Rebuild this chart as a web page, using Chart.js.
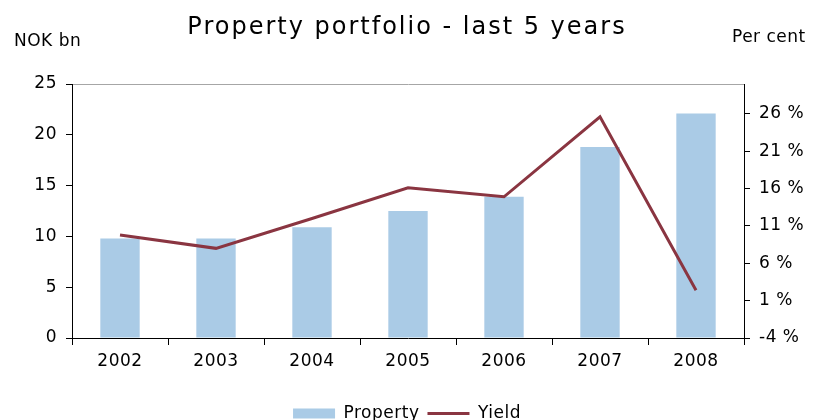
<!DOCTYPE html>
<html>
<head>
<meta charset="utf-8">
<title>Property portfolio</title>
<script src="https://cdn.jsdelivr.net/npm/chart.js@4"></script>
<style>
    html, body { margin: 0; padding: 0; background: #fff; }
    #wrap { width: 814px; height: 420px; }
</style>
</head>
<body>
<div id="wrap"><canvas id="portfolioChart"></canvas></div>
<script>
// --- Données ---
const years = ['2002', '2003', '2004', '2005', '2006', '2007', '2008'];
const propertyValues = [9.8, 9.8, 10.9, 12.5, 13.9, 18.8, 22.1];
const yieldValues = [9.8, 8.0, 12.0, 16.1, 14.9, 25.6, 2.4];
const leftTicks = [0, 5, 10, 15, 20, 25];
const rightTicks = [-4, 1, 6, 11, 16, 21, 26];
const chartTitle = 'Property portfolio - last 5 years';
const leftUnit = 'NOK bn';
const rightUnit = 'Per cent';

Chart.defaults.font.family = '"DejaVu Sans", Verdana, sans-serif';
Chart.defaults.color = '#000';

// espacement des lettres, comme sur l'original
const spacing = {
    id: 'spacing',
    beforeUpdate(chart) { chart.ctx.letterSpacing = '0.5px'; },
    beforeDraw(chart) { chart.ctx.letterSpacing = '0.5px'; }
};

// titre + unités des axes
const headings = {
    id: 'headings',
    afterDraw(chart) {
        const ctx = chart.ctx;
        ctx.save();
        ctx.fillStyle = '#000';
        ctx.textBaseline = 'alphabetic';
        ctx.font = '24px "DejaVu Sans", Verdana, sans-serif';
        ctx.letterSpacing = '2px';
        ctx.textAlign = 'center';
        ctx.fillText(chartTitle, 407, 34);
        ctx.font = '17px "DejaVu Sans", Verdana, sans-serif';
        ctx.letterSpacing = '0.5px';
        ctx.textAlign = 'left';
        ctx.fillText(leftUnit, 14, 46);
        ctx.fillText(rightUnit, 732, 42);
        ctx.restore();
    }
};

const ctx = document.getElementById('portfolioChart');

new Chart(ctx, {
    data: {
        labels: years,
        datasets: [{
            type: 'bar',
            label: 'Property',
            data: propertyValues,
            backgroundColor: '#AACBE6',
            borderWidth: 0,
            yAxisID: 'y',
            categoryPercentage: 1,
            barPercentage: 0.41,
            order: 1
        }, {
            type: 'line',
            label: 'Yield',
            data: yieldValues,
            borderColor: '#8A3541',
            backgroundColor: '#8A3541',
            borderWidth: 3,
            pointRadius: 0,
            tension: 0,
            yAxisID: 'y1',
            order: 0
        }]
    },
    options: {
        responsive: true,
        maintainAspectRatio: false,
        animation: false,
        layout: { padding: { top: 84, left: 0, right: 0, bottom: -12 } },
        plugins: {
            title: { display: false },
            tooltip: { enabled: false },
            legend: {
                position: 'bottom',
                padding: 0,
                labels: {
                    usePointStyle: true,
                    pointStyleWidth: 42,
                    boxHeight: 10,
                    padding: 8,
                    color: '#000',
                    font: { size: 17 },
                    sort: (a, b) => a.datasetIndex - b.datasetIndex,
                    generateLabels(chart) {
                        const items = Chart.defaults.plugins.legend.labels.generateLabels(chart);
                        return items.map(it => {
                            if (it.datasetIndex === 0) {
                                it.pointStyle = 'rect';
                                it.lineWidth = 0;
                                it.strokeStyle = 'rgba(0,0,0,0)';
                            } else {
                                it.pointStyle = 'line';
                                it.lineWidth = 3;
                            }
                            return it;
                        });
                    }
                }
            }
        },
        scales: {
            x: {
                offset: true,
                grid: { offset: true, drawOnChartArea: false, tickLength: 7, tickColor: '#000' },
                border: { color: '#000' },
                ticks: { font: { size: 17 }, padding: 6, maxRotation: 0 },
                afterFit(scale) { scale.height = 59; }
            },
            y: {
                position: 'left',
                min: 0,
                max: 25,
                afterBuildTicks(scale) { scale.ticks = leftTicks.map(v => ({ value: v })); },
                grid: {
                    color: c => (c.tick && c.tick.value === 25) ? '#a6a6a6' : 'rgba(0,0,0,0)',
                    tickColor: '#000',
                    tickLength: 6
                },
                border: { color: '#000' },
                ticks: { font: { size: 17 }, padding: 9 },
                afterFit(scale) { scale.width = 72; }
            },
            y1: {
                position: 'right',
                min: -4,
                max: 30,
                afterBuildTicks(scale) { scale.ticks = rightTicks.map(v => ({ value: v })); },
                grid: { drawOnChartArea: false, tickColor: '#000', tickLength: 6 },
                border: { color: '#000' },
                ticks: { font: { size: 17 }, padding: 9, callback: v => v + ' %' },
                afterFit(scale) { scale.width = 70; }
            }
        }
    },
    plugins: [spacing, headings]
});
</script>
</body>
</html>
